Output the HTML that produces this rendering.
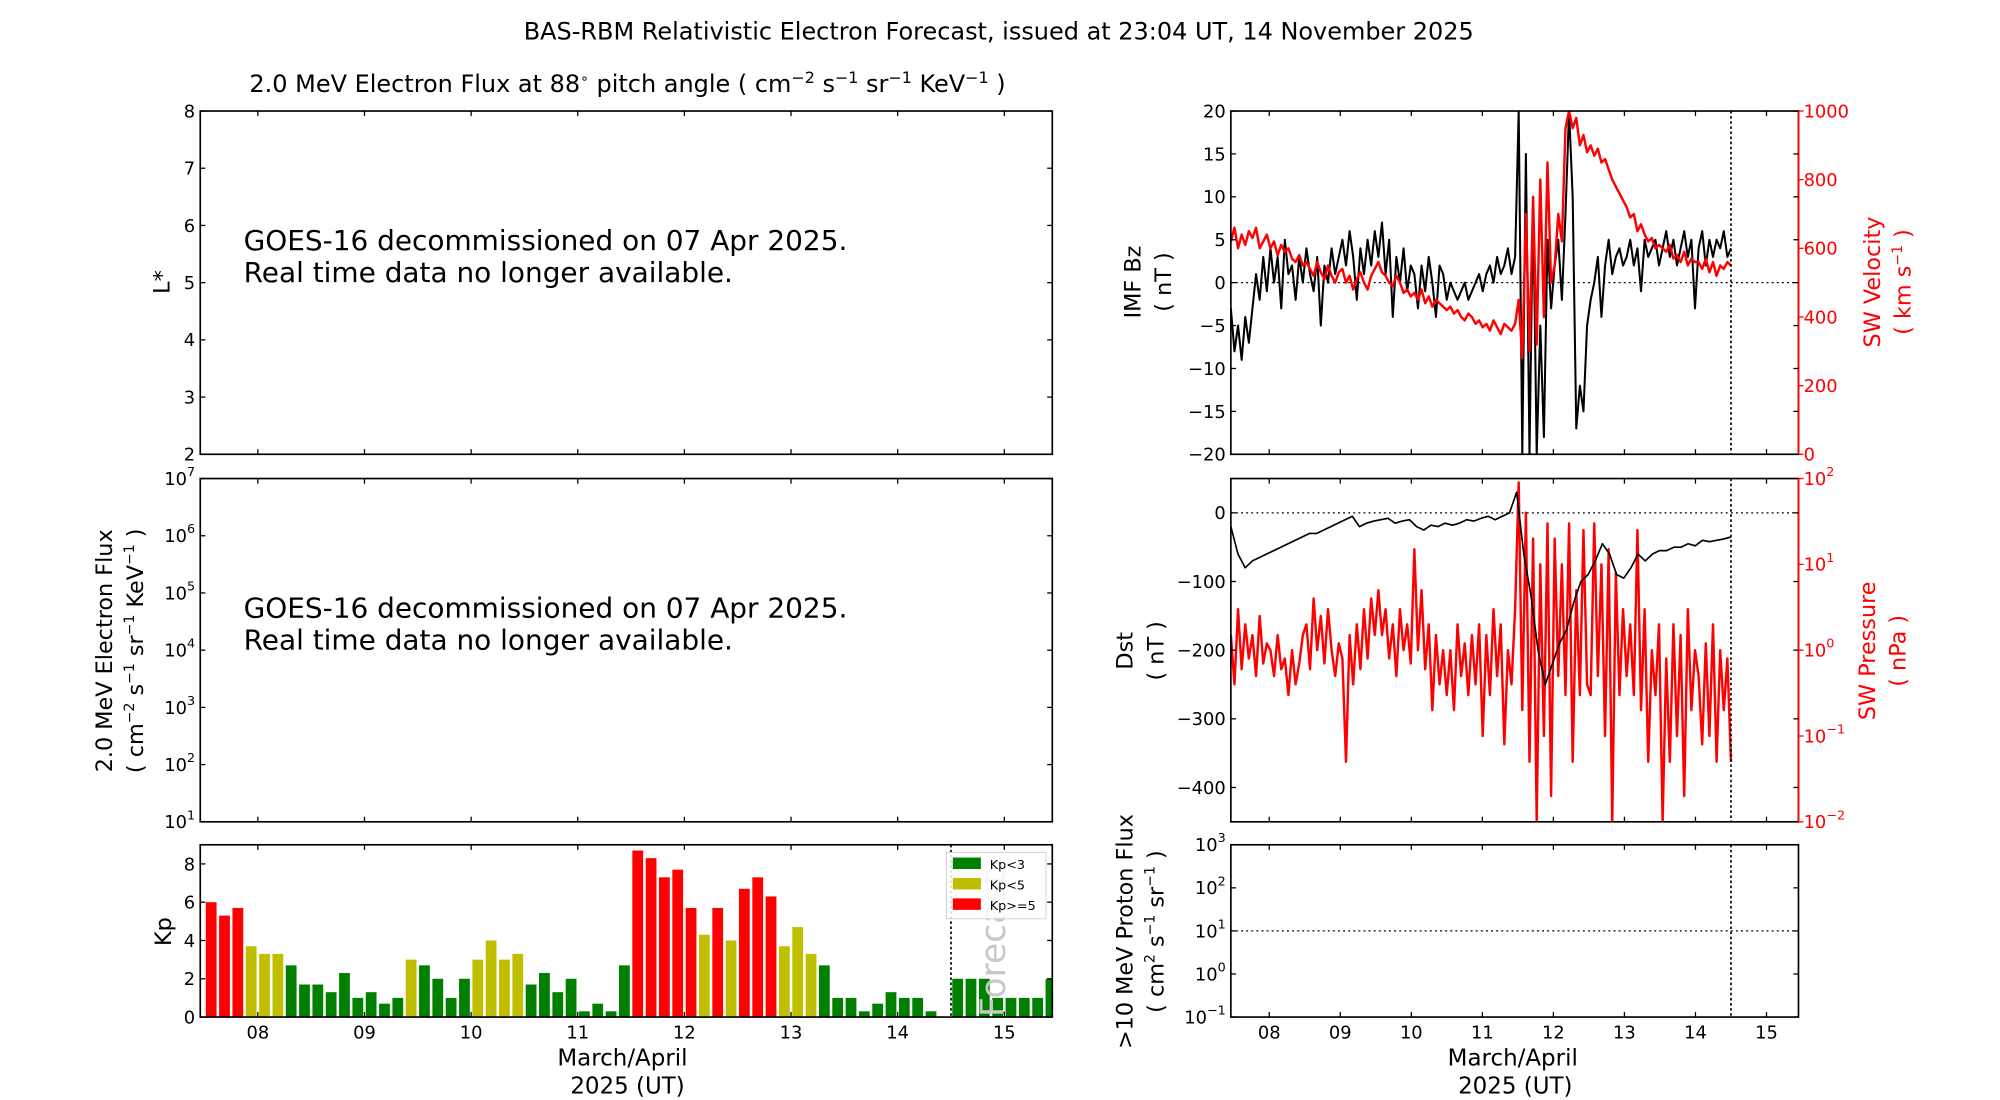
<!DOCTYPE html>
<html><head><meta charset="utf-8"><style>
html,body{margin:0;padding:0;background:#fff;}
svg{display:block;font-family:"DejaVu Sans","Liberation Sans",sans-serif;}
</style></head><body>
<svg id="fig" width="2000" height="1100" viewBox="0 0 1568 862" preserveAspectRatio="none" xmlns="http://www.w3.org/2000/svg">
<text x="783" y="31" font-size="18.8" text-anchor="middle">BAS-RBM Relativistic Electron Forecast, issued at 23:04 UT, 14 November 2025</text>
<text x="492" y="72" font-size="18.8" text-anchor="middle">2.0 MeV Electron Flux at 88<tspan dy="-7" font-size="11">∘</tspan><tspan dy="7"> pitch angle ( cm</tspan><tspan dy="-7" font-size="12.5">−2</tspan><tspan dy="7"> s</tspan><tspan dy="-7" font-size="12.5">−1</tspan><tspan dy="7"> sr</tspan><tspan dy="-7" font-size="12.5">−1</tspan><tspan dy="7"> KeV</tspan><tspan dy="-7" font-size="12.5">−1</tspan><tspan dy="7"> )</tspan></text>
<g id="g"></g>
</svg>
<script>
// ---- data ----
const kpObserved = [6.0,5.3,5.7,3.7,3.3,3.3,2.7,1.7,1.7,1.3,2.3,1.0,1.3,0.7,1.0,3.0,2.7,2.0,1.0,2.0,3.0,4.0,3.0,3.3,1.7,2.3,1.3,2.0,0.3,0.7,0.3,2.7,8.7,8.3,7.3,7.7,5.7,4.3,5.7,4.0,6.7,7.3,6.3,3.7,4.7,3.3,2.7,1.0,1.0,0.3,0.7,1.3,1.0,1.0,0.3,0];
const kpForecast = [2,2,2,1,1,1,1,2];
const dayTicks = [8,9,10,11,12,13,14,15];
const dayLabels = ["08","09","10","11","12","13","14","15"];
const bzValues = [-3,-8,-5,-9,-4,-7,-3,1,-2,3,-1,4,0,3,-3,5,1,2,-2,3,0,4,1,-1,3,-5,2,0,4,1,3,5,2,6,3,-2,4,1,5,2,6,3,7,1,5,-4,3,0,4,-1,2,1,-3,2,-1,3,0,-4,2,1,-2,0,-1,-2,-1,0,-2,-1,0,1,-1,1,2,0,3,1,2,4,1,3,20,-20,15,-20,10,-20,-5,-18,5,-3,2,5,-2,8,20,10,-17,-12,-15,-5,-2,0,3,-4,2,5,1,3,4,2,3,5,2,4,-1,5,3,4,5,2,4,6,3,5,2,4,6,3,5,-3,4,6,2,5,3,5,4,6,3,4];
const velValues = [620,660,600,640,610,650,630,660,600,620,640,600,620,580,610,590,600,570,560,580,550,560,540,520,560,530,510,550,520,500,530,540,500,520,480,510,530,500,480,520,540,560,530,520,500,490,520,500,470,480,460,470,450,480,440,460,430,450,440,430,420,430,410,420,400,390,410,400,380,390,370,380,360,390,370,350,380,370,360,380,450,280,700,300,750,320,800,400,850,500,550,700,620,950,1000,950,980,900,930,880,900,870,890,850,860,830,800,780,760,740,720,690,700,650,670,640,620,630,600,610,600,590,610,570,580,560,590,550,570,560,560,540,570,530,560,520,550,540,560,550];
const dstValues = [-20,-60,-80,-70,-65,-60,-55,-50,-45,-40,-35,-30,-30,-25,-20,-15,-10,-5,-20,-15,-12,-10,-8,-15,-12,-10,-20,-25,-18,-20,-15,-18,-15,-10,-12,-8,-5,-10,-5,0,30,-60,-120,-200,-250,-220,-190,-170,-130,-100,-90,-70,-45,-60,-90,-95,-80,-60,-70,-60,-55,-55,-50,-50,-45,-48,-40,-42,-40,-38,-35];
const presValues = [1.5,0.4,3,0.6,2,0.8,1.5,0.5,2.5,0.7,1.2,1,0.5,1.5,0.6,0.8,0.3,1,0.4,0.7,1.5,2,0.6,4,1,2.5,0.7,3,1,0.5,1.2,0.8,0.05,1.5,0.4,2,0.6,3,0.8,4,1.5,5,1.5,3,0.8,2,0.5,3,1,2,0.7,15,1,5,0.6,2,0.2,1.5,0.4,1,0.3,1,0.2,2,0.5,1.2,0.3,1.5,0.4,2,0.1,1.5,0.3,3,0.5,2,0.08,1,0.4,3,90,0.2,40,0.05,20,0.01,10,0.1,30,0.02,20,0.5,10,0.3,30,0.05,5,0.3,25,0.4,0.3,30,0.5,10,0.1,15,0.01,8,0.3,3,0.5,2,0.3,25,0.2,3,0.05,1,0.3,2,0.01,0.8,0.05,2,0.1,1.5,0.02,3,0.2,1,0.5,0.08,1.2,0.1,2,0.05,1,0.2,0.8,0.05];
const tStart = 7.46, tEnd = 14.5, dMin = 7.46, dMax = 15.45, forecastDay = 14.5;

const NS="http://www.w3.org/2000/svg", G=document.getElementById('g');
function el(tag, attrs, parent){const e=document.createElementNS(NS,tag);for(const k in attrs)e.setAttribute(k,attrs[k]);(parent||G).appendChild(e);return e;}
function txt(s,attrs,parent){const e=el('text',attrs,parent);e.textContent=s;return e;}
function xs(x0,x1){return d=>x0+(d-dMin)/(dMax-dMin)*(x1-x0);}
function lin(v0,v1,y0,y1){return v=>y1-(v-v0)/(v1-v0)*(y1-y0);}
function logs(e0,e1,y0,y1){return v=>y1-(Math.log10(v)-e0)/(e1-e0)*(y1-y0);}
function frame(x0,y0,x1,y1,name,rightColor){
  el('rect',{x:x0,y:y0,width:x1-x0,height:y1-y0,fill:'none',stroke:'#000','stroke-width':1.3,});
  if(rightColor) el('line',{x1:x1,y1:y0,x2:x1,y2:y1,stroke:rightColor,'stroke-width':1.3});
}
function xTicks(X,y0,y1,labels){
  dayTicks.forEach((d,i)=>{const x=X(d);
    el('line',{x1:x,y1:y1,x2:x,y2:y1-4,stroke:'#000'});el('line',{x1:x,y1:y0,x2:x,y2:y0+4,stroke:'#000'});
    if(labels){const t=txt(dayLabels[i],{x:x,y:y1+17,'font-size':14,'text-anchor':'middle'});}
  });
}
function yTick(x0,x1,y,label,side,color,isLog){
  el('line',{x1:x0,y1:y,x2:x0+4,y2:y,stroke:'#000'});el('line',{x1:x1,y1:y,x2:x1-4,y2:y,stroke:color||'#000'});
  if(label===null)return;
  const x=side==='r'?x1+4:x0-4, a=side==='r'?'start':'end';
  const t=el('text',{x:x,y:y+5,'font-size':14,'text-anchor':a,fill:color||'#000'});
  
  if(isLog){const b=el('tspan',{},t);b.textContent='10';const s=el('tspan',{dy:-7,'font-size':10},t);s.textContent=label;}
  else t.textContent=label;
}
function vlabel(lines,x,y,color,size){lines.forEach((l,i)=>{
  const t=el('text',{x:0,y:0,'font-size':size||17.5,'text-anchor':'middle',fill:color||'#000',transform:`translate(${x+i*24},${y}) rotate(-90)`});
  
  l.forEach(p=>{const s=el('tspan',p[1]?{dy:-7,'font-size':11}:{dy:p[2]||0},t);s.textContent=p[0];});
});}
function clip(id,x0,y0,x1,y1){const c=el('clipPath',{id:id});el('rect',{x:x0,y:y0,width:x1-x0,height:y1-y0},c);}
const sup=(s)=>[s,true];

// ---- LEFT PANELS ----
const LX0=157,LX1=825,LX=xs(LX0,LX1);
frame(LX0,87,LX1,356,'lstar-panel');
const LY=lin(2,8,87,356);
for(let v=2;v<=8;v++)yTick(LX0,LX1,LY(v),String(v));
xTicks(LX,87,356,false);
vlabel([[['L*']]],133,221);
txt('GOES-16 decommissioned on 07 Apr 2025.',{x:191,y:196,'font-size':21.9,});
txt('Real time data no longer available.',{x:191,y:221,'font-size':21.9,});
frame(LX0,375,LX1,644,'electron-flux-panel');
const FY=logs(1,7,375,644);
for(let e=1;e<=7;e++)yTick(LX0,LX1,FY(Math.pow(10,e)),String(e),'l',null,true);
xTicks(LX,375,644,false);
vlabel([[['2.0 MeV Electron Flux']],[['( cm'],sup('−2'),[' s',false,7],sup('−1'),[' sr',false,7],sup('−1'),[' KeV',false,7],sup('−1'),[' )',false,7]]],88,510);
txt('GOES-16 decommissioned on 07 Apr 2025.',{x:191,y:484,'font-size':21.9,});
txt('Real time data no longer available.',{x:191,y:509,'font-size':21.9,});
const KY=lin(0,9,662,797);
clip('kpclip',LX0,662,LX1,797);
const kg=el('g',{'clip-path':'url(#kpclip)'});
function kpColor(v){return v<3?'#008000':(v<5?'#bfbf00':'#ff0000');}
const barW=1/8;
kpObserved.forEach((v,i)=>{if(v<=0)return;const d0=7.5+i*barW;
  const r=el('rect',{x:LX(d0)+1,y:KY(v),width:LX(d0+barW)-LX(d0)-2,height:KY(0)-KY(v),fill:kpColor(v)},kg);
  });
kpForecast.forEach((v,i)=>{const d0=forecastDay+i*barW;
  const r=el('rect',{x:LX(d0)+1,y:KY(v),width:LX(d0+barW)-LX(d0)-2,height:KY(0)-KY(v),fill:kpColor(v)},kg);
  });
const ft=el('text',{x:0,y:0,'font-size':27,fill:'#c8c8c8','text-anchor':'start',transform:`translate(788,797) rotate(-90)`},kg);ft.textContent='Forecast';

el('line',{x1:LX(forecastDay),y1:662,x2:LX(forecastDay),y2:797,stroke:'#000','stroke-width':1.3,'stroke-dasharray':'2,2'});
frame(LX0,662,LX1,797,'kp-panel');
for(let v=0;v<=8;v+=2)yTick(LX0,LX1,KY(v),String(v));
xTicks(LX,662,797,true);
vlabel([[['Kp']]],134,730);
const lg=el('g',{});
el('rect',{x:742,y:668,width:78,height:52,fill:'#fff',stroke:'#ccc','stroke-width':0.8,opacity:0.85},lg);
[['Kp<3','#008000'],['Kp<5','#bfbf00'],['Kp>=5','#ff0000']].forEach((e,i)=>{
  const r=el('rect',{x:747,y:672+i*16,width:22,height:9,fill:e[1]},lg);
  const t=txt(e[0],{x:776,y:681+i*16,'font-size':10},lg);});
txt('March/April',{x:488,y:835,'font-size':18,'text-anchor':'middle',});
txt('2025 (UT)',{x:492,y:857,'font-size':18,'text-anchor':'middle',});

// ---- RIGHT PANELS ----
const RX0=965,RX1=1410,RX=xs(RX0,RX1);
function path(vals,Y,color,w,parent,name){const n=vals.length;let d='';
  vals.forEach((v,i)=>{const t=tStart+i*(tEnd-tStart)/(n-1);d+=(i?'L':'M')+RX(t).toFixed(2)+','+Y(v).toFixed(2);});
  const p=el('path',{d:d,fill:'none',stroke:color,'stroke-width':w,'stroke-linejoin':'round'},parent);
  }
clip('c1',RX0,87,RX1,356);
const BY=lin(-20,20,87,356),VY=lin(0,1000,87,356);
el('line',{x1:RX0,y1:BY(0),x2:RX1,y2:BY(0),stroke:'#000','stroke-dasharray':'1.5,2.5'});
const g1=el('g',{'clip-path':'url(#c1)'});
path(bzValues,BY,'#000',1.6,g1,'imf-bz-line');
path(velValues,VY,'#ff0000',1.9,g1,'sw-velocity-line');
el('line',{x1:RX(forecastDay),y1:87,x2:RX(forecastDay),y2:356,stroke:'#000','stroke-width':1.3,'stroke-dasharray':'2,2'});
frame(RX0,87,RX1,356,'imf-panel','#ff0000');
for(let v=-20;v<=20;v+=5)yTick(RX0,RX1,BY(v),String(v).replace('-','−'),'l');
for(let v=0;v<=1000;v+=200){const y=VY(v);el('line',{x1:RX1,y1:y,x2:RX1+4,y2:y,stroke:'#ff0000'});const t=txt(String(v),{x:RX1+4,y:y+5,'font-size':14,fill:'#ff0000'});}
xTicks(RX,87,356,false);
vlabel([[['IMF Bz']],[['( nT )']]],894,221);
vlabel([[['SW Velocity']],[['( km s'],sup('−1'),[' )',false,7]]],1474,221,'#ff0000');
clip('c2',RX0,375,RX1,644);
const DY=lin(-450,50,375,644),PY=logs(-2,2,375,644);
el('line',{x1:RX0,y1:DY(0),x2:RX1,y2:DY(0),stroke:'#000','stroke-dasharray':'1.5,2.5'});
const g2=el('g',{'clip-path':'url(#c2)'});
path(presValues,PY,'#ff0000',1.9,g2,'sw-pressure-line');
path(dstValues,DY,'#000',1.3,g2,'dst-line');
el('line',{x1:RX(forecastDay),y1:375,x2:RX(forecastDay),y2:644,stroke:'#000','stroke-width':1.3,'stroke-dasharray':'2,2'});
frame(RX0,375,RX1,644,'dst-panel','#ff0000');
for(let v=-400;v<=0;v+=100)yTick(RX0,RX1,DY(v),String(v).replace('-','−'),'l');
for(let e=-2;e<=2;e++){const y=PY(Math.pow(10,e));el('line',{x1:RX1,y1:y,x2:RX1+4,y2:y,stroke:'#ff0000'});
  const t=el('text',{x:RX1+4,y:y+5,'font-size':14,fill:'#ff0000'});
  const b=el('tspan',{},t);b.textContent='10';const s=el('tspan',{dy:-7,'font-size':10},t);s.textContent=String(e).replace('-','−');}
xTicks(RX,375,644,false);
vlabel([[['Dst']],[['( nT )']]],888,510);
vlabel([[['SW Pressure']],[['( nPa )']]],1470,510,'#ff0000');
const PRY=logs(-1,3,662,797);
el('line',{x1:RX0,y1:PRY(10),x2:RX1,y2:PRY(10),stroke:'#000','stroke-dasharray':'1.5,2.5',});
el('line',{x1:RX(forecastDay),y1:662,x2:RX(forecastDay),y2:797,stroke:'#000','stroke-width':1.3,'stroke-dasharray':'2,2'});
frame(RX0,662,RX1,797,'proton-panel');
for(let e=-1;e<=3;e++)yTick(RX0,RX1,PRY(Math.pow(10,e)),String(e).replace('-','−'),'l',null,true);
xTicks(RX,662,797,true);
vlabel([[['>10 MeV Proton Flux']],[['( cm'],sup('2'),[' s',false,7],sup('−1'),[' sr',false,7],sup('−1'),[' )',false,7]]],888,730);
txt('March/April',{x:1186,y:835,'font-size':18,'text-anchor':'middle',});
txt('2025 (UT)',{x:1188,y:857,'font-size':18,'text-anchor':'middle',});
</script>
</body></html>
